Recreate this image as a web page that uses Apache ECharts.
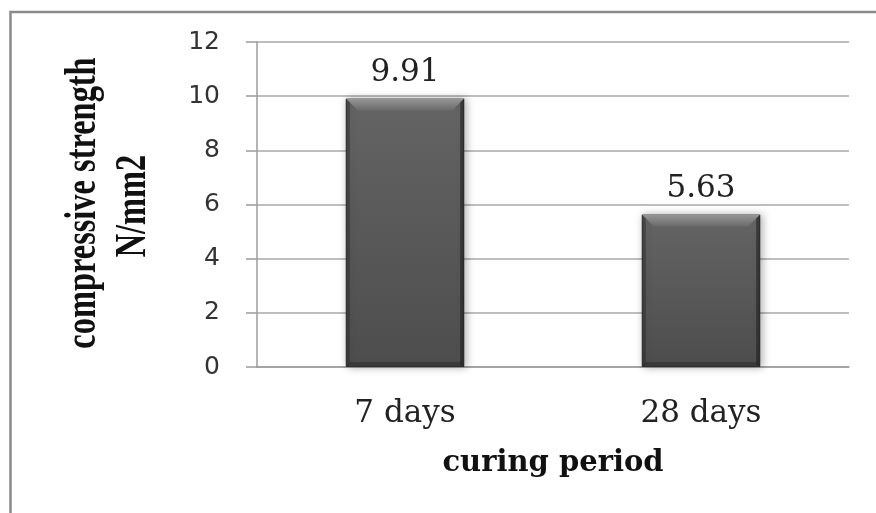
<!DOCTYPE html>
<html>
<head>
<meta charset="utf-8">
<script src="https://cdn.jsdelivr.net/npm/echarts@6/dist/echarts.min.js"></script>
<style>
  html, body { margin: 0; padding: 0; background: #ffffff; }
  #chart { width: 876px; height: 513px; }
</style>
</head>
<body>
<div id="chart"></div>
<script>
// Compressive strength by curing period
const categories = ['7 days', '28 days'];
const strengthValues = [9.91, 5.63];
const yTicks = { min: 0, max: 12, interval: 2 };

const BAR_FRACTION = 0.4;   // bar width as a share of the category band

const chart = echarts.init(document.getElementById('chart'), null, { renderer: 'canvas' });

// Bevel overlay: light top chamfer, darker side and bottom edges on each bar
function renderBevel(params, api) {
  const idx = api.value(0);
  const top = api.coord([idx, api.value(1)]);
  const base = api.coord([idx, 0]);
  const w = api.size([1, 0])[0] * BAR_FRACTION;
  const x0 = top[0] - w / 2;
  const x1 = top[0] + w / 2;
  const yT = top[1];
  const yB = base[1];
  const b = 12;
  return {
    type: 'group',
    children: [
      {
        type: 'polygon',
        shape: { points: [[x0, yT], [x1, yT], [x1 - b, yT + b], [x0 + b, yT + b]] },
        style: {
          fill: new echarts.graphic.LinearGradient(0, 0, 0, 1, [
            { offset: 0, color: '#969696' },
            { offset: 1, color: '#6a6a6a' }
          ])
        }
      },
      {
        type: 'polygon',
        shape: { points: [[x0, yT], [x0 + 4, yT + 4], [x0 + 4, yB - 3], [x0, yB]] },
        style: { fill: 'rgba(30,30,30,0.4)' }
      },
      {
        type: 'polygon',
        shape: { points: [[x1, yT], [x1 - 4, yT + 4], [x1 - 4, yB - 3], [x1, yB]] },
        style: { fill: 'rgba(20,20,20,0.5)' }
      },
      {
        type: 'polygon',
        shape: { points: [[x0, yB], [x0 + 4, yB - 5], [x1 - 4, yB - 5], [x1, yB]] },
        style: { fill: 'rgba(20,20,20,0.3)' }
      }
    ]
  };
}

const option = {
  backgroundColor: '#ffffff',
  animation: false,
  grid: { left: 257, right: 27, top: 42, bottom: 146 },
  xAxis: {
    type: 'category',
    data: categories,
    name: 'curing period',
    nameLocation: 'middle',
    nameGap: 82,
    nameTextStyle: {
      fontFamily: 'DejaVu Serif',
      fontWeight: 'bold',
      fontSize: 29,
      color: '#111111',
      verticalAlign: 'top'
    },
    axisLine: { show: true, lineStyle: { color: '#9c9c9c', width: 1.5 } },
    axisTick: { show: false },
    axisLabel: {
      margin: 31,
      fontFamily: 'DejaVu Serif',
      fontSize: 31,
      color: '#222222'
    }
  },
  yAxis: {
    type: 'value',
    min: yTicks.min,
    max: yTicks.max,
    interval: yTicks.interval,
    axisLine: { show: true, lineStyle: { color: '#9c9c9c', width: 1.5 } },
    axisTick: { show: true, inside: false, length: 11, lineStyle: { color: '#9c9c9c', width: 1.5 } },
    splitLine: { show: true, lineStyle: { color: '#a8a8a8', width: 1.5 } },
    axisLabel: {
      margin: 37,
      fontFamily: 'DejaVu Sans',
      fontSize: 25,
      color: '#333333'
    }
  },
  series: [
    {
      type: 'bar',
      data: strengthValues,
      barWidth: (BAR_FRACTION * 100) + '%',
      itemStyle: {
        color: new echarts.graphic.LinearGradient(0, 0, 0, 1, [
          { offset: 0, color: '#646464' },
          { offset: 1, color: '#4d4d4d' }
        ]),
        borderColor: '#3a3a3a',
        borderWidth: 1,
        shadowBlur: 8,
        shadowColor: 'rgba(0,0,0,0.3)',
        shadowOffsetX: 2
      },
      label: {
        show: true,
        position: 'top',
        distance: 10,
        fontFamily: 'DejaVu Serif',
        fontSize: 31,
        color: '#222222',
        formatter: p => p.value.toFixed(2)
      },
      z: 2
    },
    {
      type: 'custom',
      renderItem: renderBevel,
      data: strengthValues.map((v, i) => [i, v]),
      encode: { x: 0, y: 1 },
      silent: true,
      z: 3
    }
  ],
  graphic: [
    {
      type: 'rect',
      silent: true,
      shape: { x: 10.5, y: 12, width: 900, height: 600 },
      style: { fill: 'none', stroke: '#8a8a8a', lineWidth: 2.5 }
    },
    {
      type: 'text',
      silent: true,
      x: 83,
      y: 203,
      rotation: Math.PI / 2,
      scaleX: 0.72,
      style: {
        text: 'compressive strength',
        font: 'bold 45px "Liberation Serif"',
        fill: '#111111',
        textAlign: 'center',
        textVerticalAlign: 'middle'
      }
    },
    {
      type: 'text',
      silent: true,
      x: 133,
      y: 206,
      rotation: Math.PI / 2,
      scaleX: 0.72,
      style: {
        text: 'N/mm2',
        font: 'bold 45px "Liberation Serif"',
        fill: '#111111',
        textAlign: 'center',
        textVerticalAlign: 'middle'
      }
    }
  ]
};

chart.setOption(option);
</script>
</body>
</html>
